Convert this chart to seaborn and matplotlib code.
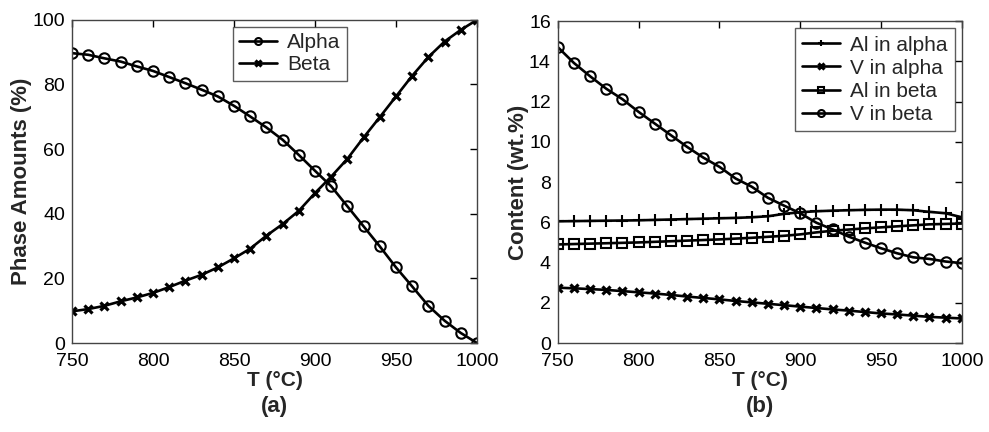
import numpy as np
import pandas as pd
import matplotlib
matplotlib.use("Agg")
import matplotlib.pyplot as plt
import seaborn as sns

temperature = [750, 760, 770, 780, 790, 800, 810, 820, 830, 840, 850, 860, 870,
               880, 890, 900, 910, 920, 930, 940, 950, 960, 970, 980, 990, 1000]

alpha_amount = [89.7, 89.2, 88.1, 87.1, 85.6, 84.2, 82.3, 80.4, 78.4, 76.3, 73.4, 70.1, 66.7,
                62.9, 58.2, 53.3, 48.5, 42.3, 36.1, 29.9, 23.4, 17.5, 11.5, 6.9, 3.1, 0.0]
beta_amount = [9.8, 10.5, 11.5, 12.9, 14.1, 15.5, 17.3, 19.3, 21.1, 23.4, 26.2, 29.2, 33.2,
               36.8, 40.9, 46.4, 51.5, 57.0, 63.6, 69.9, 76.3, 82.7, 88.5, 93.3, 96.9, 100.0]

al_in_alpha = [6.05, 6.06, 6.07, 6.08, 6.09, 6.10, 6.12, 6.14, 6.16, 6.18, 6.20, 6.22, 6.25,
               6.30, 6.42, 6.50, 6.55, 6.58, 6.60, 6.62, 6.63, 6.63, 6.60, 6.52, 6.45, 6.25]
v_in_alpha = [2.75, 2.72, 2.68, 2.64, 2.58, 2.52, 2.46, 2.39, 2.31, 2.24, 2.17, 2.09, 2.02,
              1.95, 1.88, 1.81, 1.74, 1.67, 1.61, 1.54, 1.47, 1.42, 1.36, 1.30, 1.26, 1.22]
al_in_beta = [4.90, 4.92, 4.94, 4.96, 4.98, 5.00, 5.03, 5.06, 5.09, 5.12, 5.15, 5.19, 5.23,
              5.28, 5.33, 5.40, 5.50, 5.58, 5.64, 5.70, 5.75, 5.80, 5.85, 5.90, 5.92, 5.94]
v_in_beta = [14.71, 13.92, 13.26, 12.64, 12.12, 11.49, 10.91, 10.33, 9.75, 9.22, 8.76, 8.18, 7.77,
             7.22, 6.83, 6.45, 5.98, 5.65, 5.29, 4.99, 4.71, 4.46, 4.26, 4.18, 4.05, 3.97]

left_series = [("Alpha", alpha_amount, "o"), ("Beta", beta_amount, "x")]
right_series = [("Al in alpha", al_in_alpha, "+"), ("V in alpha", v_in_alpha, "x"),
                ("Al in beta", al_in_beta, "s"), ("V in beta", v_in_beta, "o")]

sns.set_style("white")
plt.rcParams["font.family"] = ["Liberation Sans", "DejaVu Sans"]

fig = plt.figure(figsize=(9.89, 4.32), dpi=100)
ax1 = fig.add_axes([0.0728, 0.206, 0.4095, 0.748])
ax2 = fig.add_axes([0.564, 0.206, 0.4085, 0.745])


def draw(ax, series):
    for name, vals, mk in series:
        kw = dict(marker=mk, color="black", linewidth=1.9, markersize=7.5,
                  markeredgewidth=1.5, markeredgecolor="black")
        if mk in ("o", "s"):
            kw["markerfacecolor"] = "none"
        if mk == "x":
            kw["markersize"] = 6
            kw["markeredgewidth"] = 2.3
        if mk == "+":
            kw["markersize"] = 9
        sns.lineplot(x=temperature, y=vals, ax=ax, label=name, **kw)


draw(ax1, left_series)
draw(ax2, right_series)

for ax in (ax1, ax2):
    ax.set_xlim(750, 1000)
    ax.set_xticks([750, 800, 850, 900, 950, 1000])
    ax.tick_params(direction="in", top=True, right=True, length=5, width=1,
                   labelsize=14, colors="black")
    ax.tick_params(axis="x", pad=7)
    ax.tick_params(axis="y", pad=5)
    for sp in ax.spines.values():
        sp.set_color("#444444")
        sp.set_linewidth(1.0)
    ax.set_xlabel("T (°C)", fontsize=15, fontweight="bold", labelpad=1)

ax1.set_ylim(0, 100)
ax1.set_yticks([0, 20, 40, 60, 80, 100])
ax1.set_ylabel("Phase Amounts (%)", fontsize=16, fontweight="bold", labelpad=0)
ax2.set_ylim(0, 16)
ax2.set_yticks([0, 2, 4, 6, 8, 10, 12, 14, 16])
ax2.set_ylabel("Content (wt.%)", fontsize=16, fontweight="bold", labelpad=0)

leg1 = ax1.legend(loc="upper left", bbox_to_anchor=(0.398, 0.978), borderaxespad=0,
                  fontsize=15, frameon=True, fancybox=False, edgecolor="#333333",
                  handlelength=1.8, handletextpad=0.5, borderpad=0.3, labelspacing=0.15)
leg2 = ax2.legend(loc="upper right", bbox_to_anchor=(0.983, 0.978), borderaxespad=0,
                  fontsize=15, frameon=True, fancybox=False, edgecolor="#333333",
                  handlelength=1.8, handletextpad=0.5, borderpad=0.35, labelspacing=0.2)
for leg in (leg1, leg2):
    leg.get_frame().set_linewidth(1.0)
    for h in leg.legend_handles:
        h.set_markersize(5)

fig.text(0.0728 + 0.4095 / 2, 0.035, "(a)", ha="center", va="bottom",
         fontsize=16, fontweight="bold")
fig.text(0.564 + 0.4085 / 2, 0.035, "(b)", ha="center", va="bottom",
         fontsize=16, fontweight="bold")

fig.savefig("out.png", dpi=100, facecolor="white")
